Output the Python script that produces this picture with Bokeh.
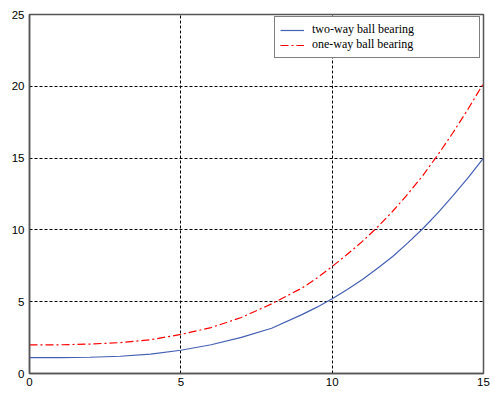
from bokeh.plotting import figure
from bokeh.models import Range1d, FixedTicker, Legend, LegendItem
from bokeh.embed import file_html
from bokeh.resources import INLINE

x_vals = [0, 1, 2, 3, 4, 5, 6, 7, 8, 9, 9.5, 10, 10.5, 11, 11.5, 12, 12.5, 13, 13.5, 14, 14.5, 15]
two_way = [1.1, 1.1, 1.13, 1.2, 1.35, 1.62, 2.0, 2.52, 3.15, 4.1, 4.62, 5.2, 5.85, 6.55, 7.33, 8.15, 9.1, 10.1, 11.2, 12.4, 13.65, 15.0]
one_way = [2.0, 2.0, 2.05, 2.15, 2.35, 2.72, 3.2, 3.9, 4.85, 5.95, 6.65, 7.45, 8.3, 9.2, 10.2, 11.3, 12.5, 13.8, 15.25, 16.8, 18.45, 20.2]
x_ticks = [0, 5, 10, 15]
y_ticks = [0, 5, 10, 15, 20, 25]
labels = ["two-way ball bearing", "one-way ball bearing"]

p = figure(width=490, height=393, output_backend="svg", toolbar_location=None,
           x_range=Range1d(0, 15), y_range=Range1d(0, 25),
           min_border_left=29, min_border_right=7, min_border_top=14, min_border_bottom=20)
p.background_fill_color = "white"
p.border_fill_color = "white"
p.outline_line_color = "#555555"
p.outline_line_width = 1.5

for ax in (p.xaxis[0], p.yaxis[0]):
    ax.axis_line_color = "#555555"
    ax.axis_line_width = 1.5
    ax.major_tick_in = 0
    ax.major_tick_out = 0
    ax.minor_tick_line_color = None
    ax.major_label_text_font = "Liberation Sans"
    ax.major_label_text_font_size = "11.5px"
    ax.major_label_text_color = "black"
p.xaxis[0].ticker = FixedTicker(ticks=x_ticks)
p.yaxis[0].ticker = FixedTicker(ticks=y_ticks)
p.xaxis[0].major_label_standoff = 4
p.yaxis[0].major_label_standoff = 5

for g in (p.xgrid[0], p.ygrid[0]):
    g.grid_line_color = "black"
    g.grid_line_dash = "3 2"
    g.grid_line_width = 1
p.xgrid[0].ticker = FixedTicker(ticks=x_ticks)
p.ygrid[0].ticker = FixedTicker(ticks=y_ticks)

r1 = p.line(x_vals, two_way, line_color="#4460b4", line_width=1.2)
r2 = p.line(x_vals, one_way, line_color="#ff0000", line_width=1.2, line_dash="8 3 2 3")

legend = Legend(items=[LegendItem(label=labels[0], renderers=[r1]),
                       LegendItem(label=labels[1], renderers=[r2])],
                location=(245, 315))
legend.label_text_font = "Liberation Serif"
legend.label_text_font_size = "12px"
legend.label_text_color = "black"
legend.glyph_width = 24
legend.glyph_height = 12
legend.label_height = 12
legend.label_width = 162
legend.label_standoff = 8
legend.spacing = 0
legend.padding = 5
legend.margin = 0
legend.border_line_color = "black"
legend.border_line_width = 1
legend.background_fill_alpha = 1
p.add_layout(legend)

open("out.html", "w").write(file_html(p, INLINE))
